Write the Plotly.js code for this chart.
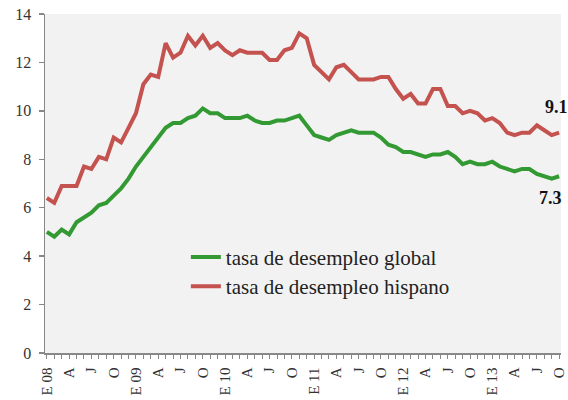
<!DOCTYPE html>
<html>
<head>
<meta charset="utf-8">
<script src="https://cdn.plot.ly/plotly-3.0.1.min.js"></script>
<style>html,body{margin:0;padding:0;background:#fff;}#chart{width:568px;height:400px;}</style>
</head>
<body>
<div id="chart"></div>
<script>
// Monthly, January 2008 to October 2013
const monthInitials = ["E","F","M","A","M","J","J","A","S","O","N","D"];
const startYear = 2008;
const global = [5.0,4.8,5.1,4.9,5.4,5.6,5.8,6.1,6.2,6.5,6.8,7.2,
  7.7,8.1,8.5,8.9,9.3,9.5,9.5,9.7,9.8,10.1,9.9,9.9,
  9.7,9.7,9.7,9.8,9.6,9.5,9.5,9.6,9.6,9.7,9.8,9.4,
  9.0,8.9,8.8,9.0,9.1,9.2,9.1,9.1,9.1,8.9,8.6,8.5,
  8.3,8.3,8.2,8.1,8.2,8.2,8.3,8.1,7.8,7.9,7.8,7.8,
  7.9,7.7,7.6,7.5,7.6,7.6,7.4,7.3,7.2,7.3];
const hispano = [6.4,6.2,6.9,6.9,6.9,7.7,7.6,8.1,8.0,8.9,8.7,9.3,
  9.9,11.1,11.5,11.4,12.8,12.2,12.4,13.1,12.7,13.1,12.6,12.8,
  12.5,12.3,12.5,12.4,12.4,12.4,12.1,12.1,12.5,12.6,13.2,13.0,
  11.9,11.6,11.3,11.8,11.9,11.6,11.3,11.3,11.3,11.4,11.4,10.9,
  10.5,10.7,10.3,10.3,10.9,10.9,10.2,10.2,9.9,10.0,9.9,9.6,
  9.7,9.5,9.1,9.0,9.1,9.1,9.4,9.2,9.0,9.1];
const seriesNames = ["tasa de desempleo global","tasa de desempleo hispano"];
const yTicks = [0,2,4,6,8,10,12,14];

const n = global.length;
const idx = [], tickText = [];
for (let i = 0; i < n; i++) {
  idx.push(i);
  const m = i % 12;
  if (m % 3 !== 0) { tickText.push(""); continue; }
  if (m === 0) tickText.push("E " + String((startYear + i / 12) % 100).padStart(2, "0"));
  else tickText.push(monthInitials[m]);
}

const font = "Liberation Serif";
const green = "#339a33", red = "#c4524e";

const traces = [
  {x: idx, y: global, name: seriesNames[0], type: "scatter", mode: "lines",
   line: {color: green, width: 4}, legend: "legend"},
  {x: idx, y: hispano, name: seriesNames[1], type: "scatter", mode: "lines",
   line: {color: red, width: 4}, legend: "legend2"}
];

const legendBase = {bgcolor: "rgba(0,0,0,0)", borderwidth: 0, xanchor: "left", yanchor: "middle",
  font: {family: font, size: 21, color: "#222"}, itemwidth: 30, tracegroupgap: 0};

const layout = {
  width: 568, height: 400,
  margin: {l: 45, r: 7, t: 14, b: 47},
  paper_bgcolor: "#ffffff", plot_bgcolor: "#f2f2f2",
  font: {family: font, color: "#333"},
  showlegend: true,
  legend: Object.assign({}, legendBase, {x: 0.273, y: 0.282}),
  legend2: Object.assign({}, legendBase, {x: 0.273, y: 0.196}),
  xaxis: {range: [-0.25, 69.25], tickmode: "array", tickvals: idx, ticktext: tickText,
    tickangle: -90, ticks: "outside", ticklen: 4, tickcolor: "#888", tickwidth: 1,
    showline: true, linecolor: "#888", linewidth: 1.5, showgrid: false, zeroline: false,
    ticklabeloverflow: "allow", ticklabelstandoff: 3,
    tickfont: {family: font, size: 15, color: "#333"}, fixedrange: true, automargin: false},
  yaxis: {range: [0, 14], tickmode: "array", tickvals: yTicks,
    ticks: "outside", ticklen: 5, tickcolor: "#888", tickwidth: 1.5,
    showline: true, linecolor: "#888", linewidth: 1.5, showgrid: false, zeroline: false,
    tickfont: {family: font, size: 16, color: "#333"}, ticklabelstandoff: 4, fixedrange: true},
  annotations: [
    {x: n - 1, y: hispano[n - 1], xref: "x", yref: "y", text: "<b>" + hispano[n - 1].toFixed(1) + "</b>",
     showarrow: false, xshift: -3, yshift: 26, font: {family: font, size: 18, color: "#111"}},
    {x: n - 1, y: global[n - 1], xref: "x", yref: "y", text: "<b>" + global[n - 1].toFixed(1) + "</b>",
     showarrow: false, xshift: -9, yshift: -22, font: {family: font, size: 18, color: "#111"}}
  ]
};

Plotly.newPlot("chart", traces, layout, {displayModeBar: false, staticPlot: true});
</script>
</body>
</html>
